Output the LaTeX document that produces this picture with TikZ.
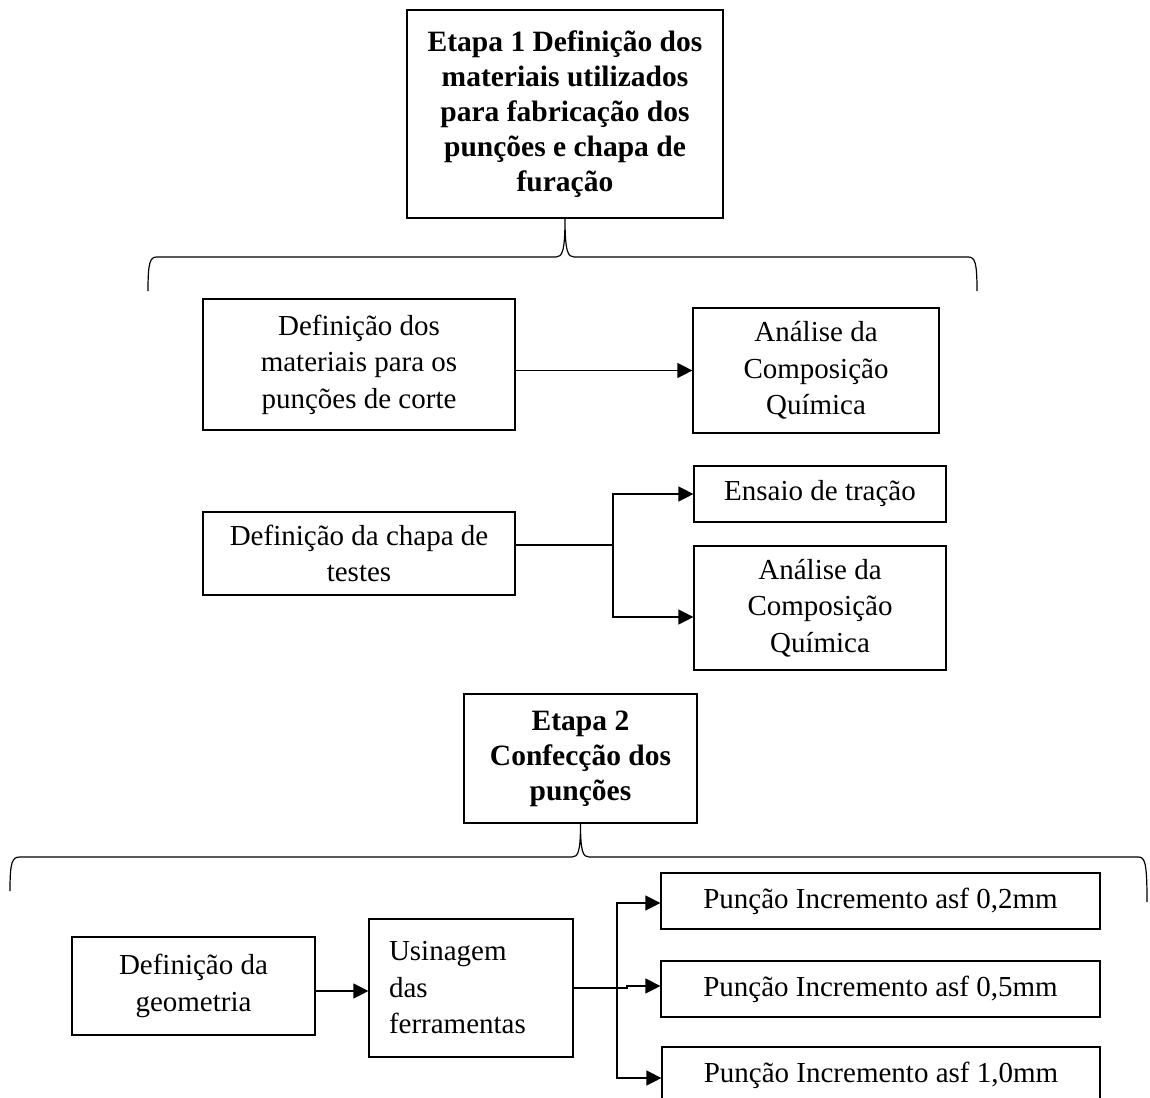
\documentclass[tikz,border=0pt]{standalone}
\usepackage{fontspec}
\setmainfont{Liberation Serif}
\usetikzlibrary{arrows.meta,calc}
\begin{document}
\begin{tikzpicture}[x=1pt,y=-1pt,
  box/.style={draw, line width=1.2pt, inner sep=0pt, align=center,
    font=\fontsize{29}{36.5}\selectfont},
  bbox/.style={box, font=\fontsize{29.5}{35}\selectfont\bfseries},
  arr/.style={-{Triangle[length=15pt,width=15pt]}, line width=1.2pt},
  conn/.style={line width=1.2pt},
  bracepath/.style={line width=1.2pt}]
\useasboundingbox (0,0) rectangle (1150,1097);
\clip (0,0) rectangle (1150,1097);
\fill[white] (0,0) rectangle (1150,1097);

% Etapa 1
\node[bbox, minimum width=316pt, minimum height=208pt] (e1) at (565,114)
  {Etapa 1 Definição dos\\materiais utilizados\\para fabricação dos\\punções e chapa de\\furação};

\draw[bracepath] (148,291) .. controls (148,262) and (150,257) .. (157,257)
  -- (556,257) .. controls (562,257) and (565,252) .. (e1.south)
  .. controls (565,252) and (568,257) .. (574,257)
  -- (968,257) .. controls (975,257) and (977,262) .. (977,291);

\node[box, minimum width=312pt, minimum height=131pt] (dm) at (359,364.5)
  {Definição dos\\materiais para os\\punções de corte};
\node[box, minimum width=246pt, minimum height=125pt] (ac1) at (816,370.5)
  {Análise da\\Composição\\Química};
\draw[arr] (dm.east |- ac1.west) -- (ac1.west);

\node[box, minimum width=312pt, minimum height=83pt] (dc) at (359,553.5)
  {Definição da chapa de\\testes};
\node[box, minimum width=252pt, minimum height=56pt] (et) at (820,494)
  {Ensaio de tração};
\node[box, minimum width=252pt, minimum height=124pt] (ac2) at (820,608)
  {Análise da\\Composição\\Química};
\coordinate (b1) at (613,545);
\draw[conn] ($(dc.east)+(0,-8.5)$) -- (b1);
\draw[arr] (b1) |- (et.west);
\draw[arr] (b1) |- ($(ac2.west)+(0,9)$);

% Etapa 2
\node[bbox, minimum width=233pt, minimum height=129pt] (e2) at (580.5,758.5)
  {Etapa 2\\Confecção dos\\punções};

\draw[bracepath] (10,891) .. controls (10,862) and (12,857) .. (20,857)
  -- (572,857) .. controls (578,857) and (580.5,852) .. (e2.south)
  .. controls (580.5,852) and (583,857) .. (589,857)
  -- (1138,857) .. controls (1145,857) and (1147,862) .. (1147,902);

\node[box, minimum width=243pt, minimum height=98pt] (dg) at (193.5,986)
  {Definição da\\geometria};
\node[box, minimum width=204pt, minimum height=138pt, text width=164pt,
  inner xsep=20pt, align=left] (us) at (471,988)
  {Usinagem\\das\\ferramentas};
\draw[arr] ($(dg.east)+(0,5)$) -- ($(dg.east -| us.west)+(0,5)$);

\node[box, minimum width=439pt, minimum height=56pt] (p1) at (880.5,901)
  {Punção Incremento asf 0,2mm};
\node[box, minimum width=439pt, minimum height=56pt] (p2) at (880.5,989)
  {Punção Incremento asf 0,5mm};
\node[box, minimum width=438pt, minimum height=56pt] (p3) at (881,1075)
  {Punção Incremento asf 1,0mm};

\coordinate (b2) at (617,988);
\draw[conn] (us.east) -- (b2);
\draw[arr] (b2) |- ($(p1.west)+(0,2)$);
\draw[arr] (b2) -- (627,988) -- (627,986) -- (p2.west |- 0,986);
\draw[arr] (b2) |- ($(p3.west)+(0,3)$);
\end{tikzpicture}
\end{document}
